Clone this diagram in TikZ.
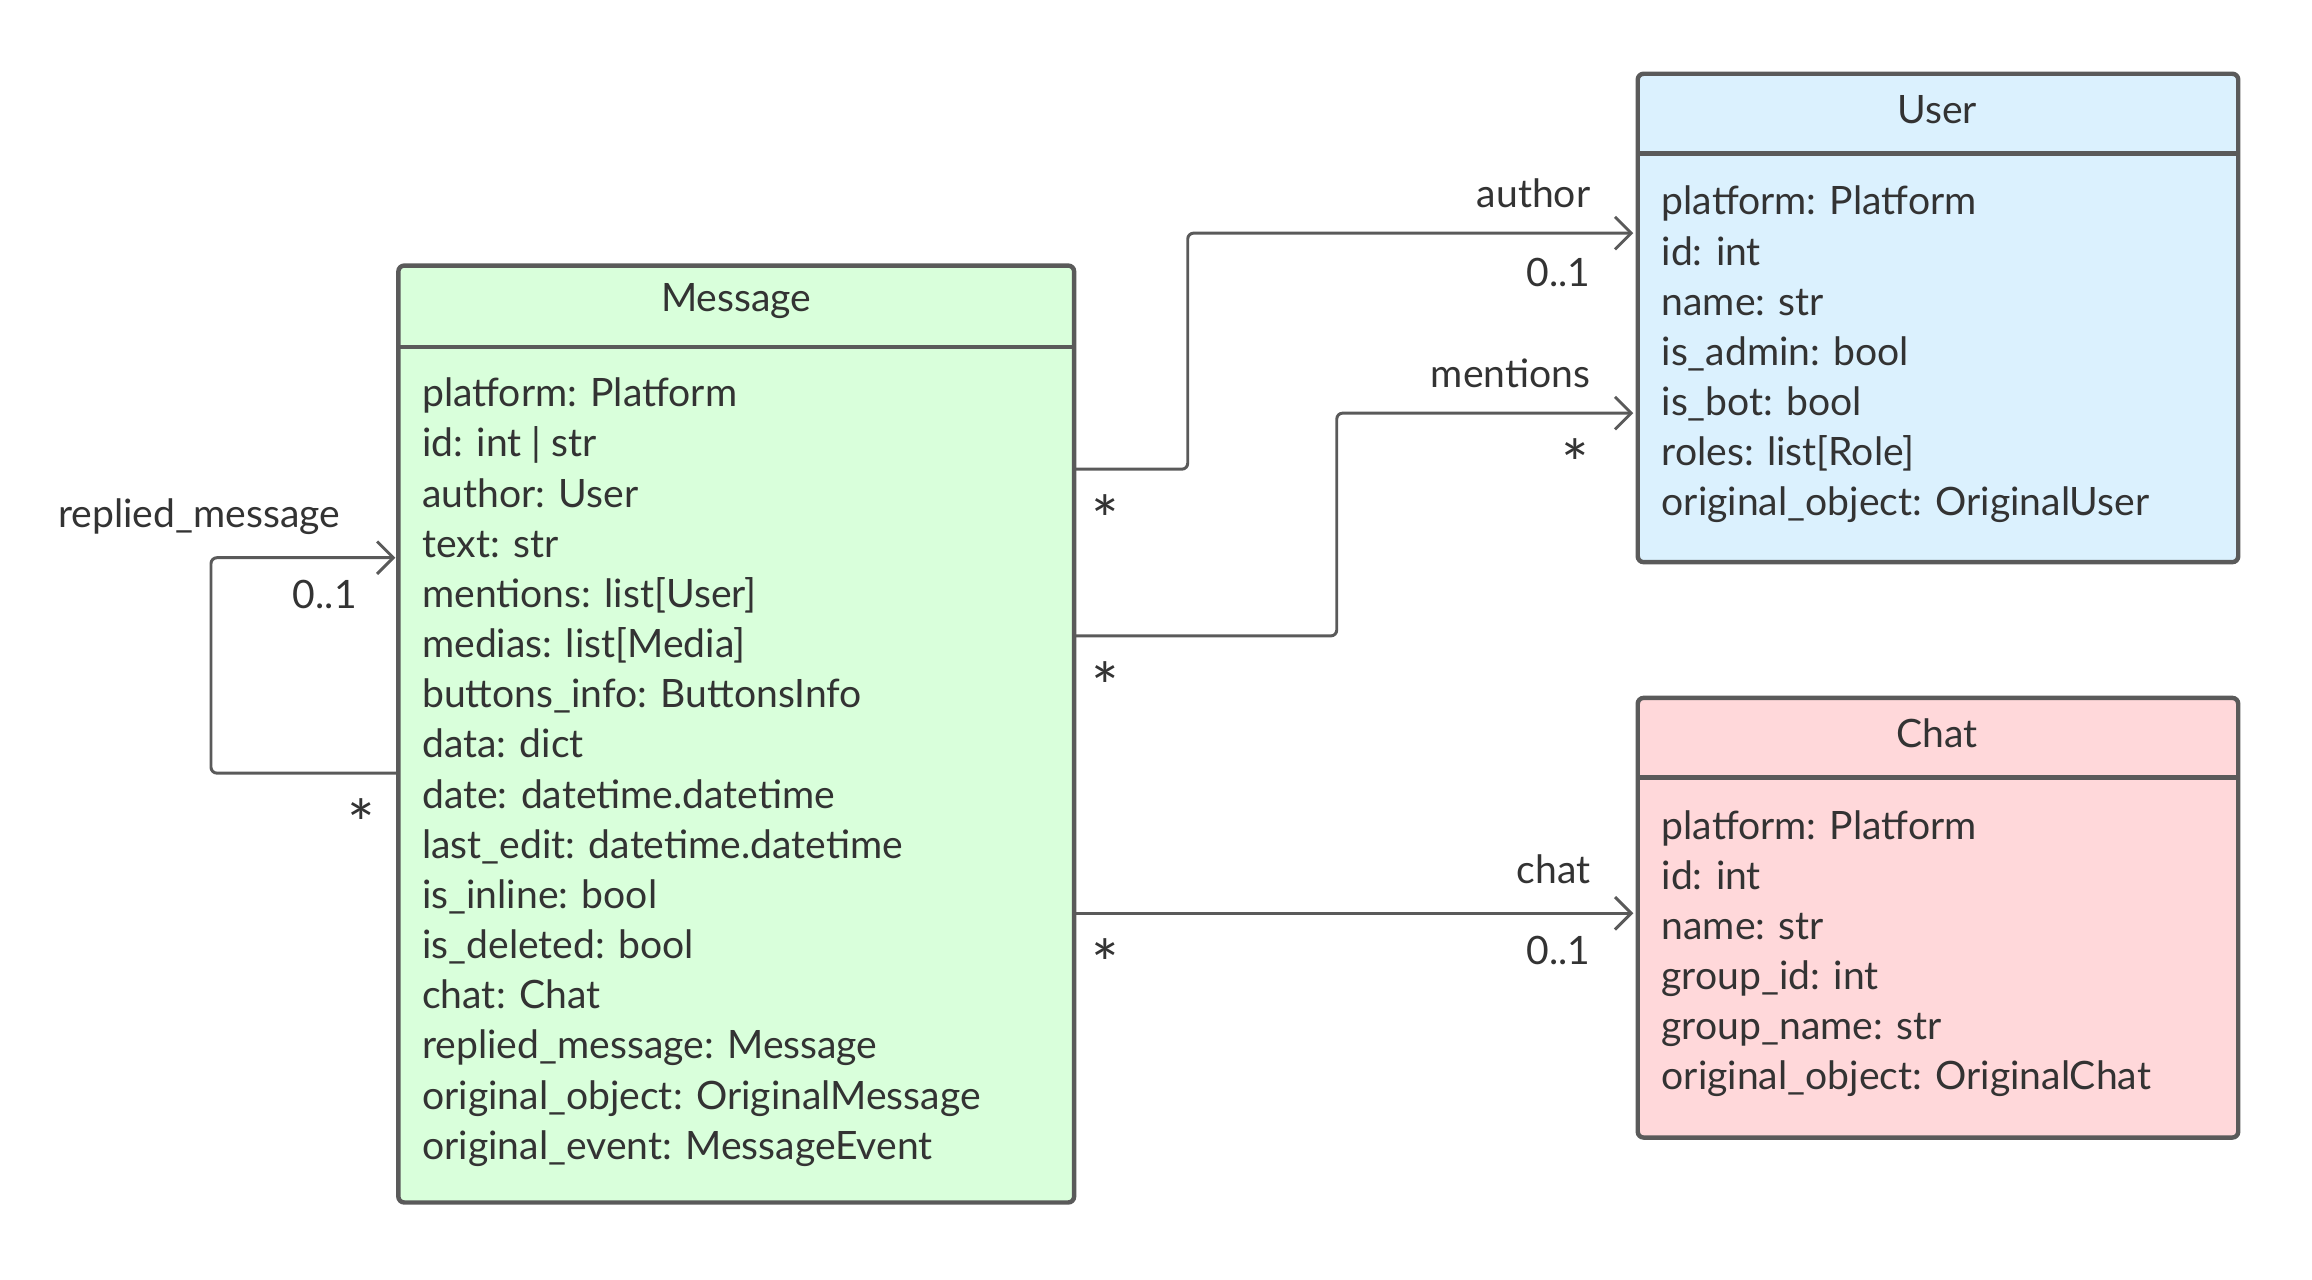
\documentclass[tikz,border=0pt]{standalone}
\usepackage{fontspec}
\setmainfont{Lato}
\usetikzlibrary{arrows.meta}
\definecolor{bd}{HTML}{5A5A5A}
\definecolor{gfill}{HTML}{D9FFDB}
\definecolor{bfill}{HTML}{DBF1FE}
\definecolor{rfill}{HTML}{FFD8DA}
\definecolor{tx}{HTML}{333333}
\begin{document}
\begin{tikzpicture}[x=1pt,y=-1pt,
  box/.style={draw=bd,line width=3pt,rounded corners=4pt},
  title/.style={font=\fontsize{26.5}{34}\selectfont,text=tx},
  attrs/.style={font=\fontsize{26.5}{34}\selectfont,text=tx,align=left,anchor=north west,inner sep=0pt},
  lbl/.style={font=\fontsize{26.5}{34}\selectfont,text=tx,inner sep=0pt},
  star/.style={font=\fontsize{44}{44}\selectfont,text=tx,inner sep=0pt},
  conn/.style={draw=bd,line width=2pt,rounded corners=4pt},
  arr/.style={-{Straight Barb[length=11pt,width=22pt,line width=2pt]}}]
\useasboundingbox (0,0) rectangle (1567,867);
% Message
\draw[box,fill=gfill] (270,180) rectangle (728,815);
\draw[bd,line width=3pt] (270,235) -- (728,235);
\node[title] (mt) at (499,204) {Message};
\node[attrs] (ma) at (286,256) {platform: Platform\\id: int | str\\author: User\\text: str\\mentions: list[User]\\medias: list[Media]\\buttons\_info: ButtonsInfo\\data: dict\\date: datetime.datetime\\last\_edit: datetime.datetime\\is\_inline: bool\\is\_deleted: bool\\chat: Chat\\replied\_message: Message\\original\_object: OriginalMessage\\original\_event: MessageEvent};
% User
\draw[box,fill=bfill] (1110,50) rectangle (1517,381);
\draw[bd,line width=3pt] (1110,104) -- (1517,104);
\node[title] (ut) at (1313,74) {User};
\node[attrs] (ua) at (1126,126) {platform: Platform\\id: int\\name: str\\is\_admin: bool\\is\_bot: bool\\roles: list[Role]\\original\_object: OriginalUser};
% Chat
\draw[box,fill=rfill] (1110,473) rectangle (1517,771);
\draw[bd,line width=3pt] (1110,527) -- (1517,527);
\node[title] (ct) at (1313,497) {Chat};
\node[attrs] (ca) at (1126,549) {platform: Platform\\id: int\\name: str\\group\_id: int\\group\_name: str\\original\_object: OriginalChat};
% coordinates
\coordinate (a1) at (729,318); \coordinate (a2) at (1107,158);
\coordinate (m1) at (729,431); \coordinate (m2) at (1107,280);
\coordinate (c1) at (729,619); \coordinate (c2) at (1107,619);
\coordinate (r1) at (269,524); \coordinate (r2) at (268,378);
\draw[conn,arr] (a1) -- (805,318) -- (805,158) -- (a2);
\draw[conn,arr] (m1) -- (906,431) -- (906,280) -- (m2);
\draw[conn,arr] (c1) -- (c2);
\draw[conn,arr] (r1) -- (143,524) -- (143,378) -- (r2);
% labels
\node[lbl,anchor=east] (l1) at (1078,131) {author};
\node[lbl,anchor=east] (l2) at (1078,185) {0..1};
\node[star] (s1) at (749,352) {*};
\node[lbl,anchor=east] (l3) at (1078,253) {mentions};
\node[star] (s2) at (1068,314) {*};
\node[star] (s3) at (749,465) {*};
\node[lbl,anchor=east] (l4) at (1078,589) {chat};
\node[lbl,anchor=east] (l5) at (1078,644) {0..1};
\node[star] (s4) at (749,653) {*};
\node[lbl] (l6) at (135,350) {replied\_message};
\node[lbl,anchor=east] (l7) at (242,403) {0..1};
\node[star] (s5) at (245,558) {*};
\end{tikzpicture}
\end{document}
